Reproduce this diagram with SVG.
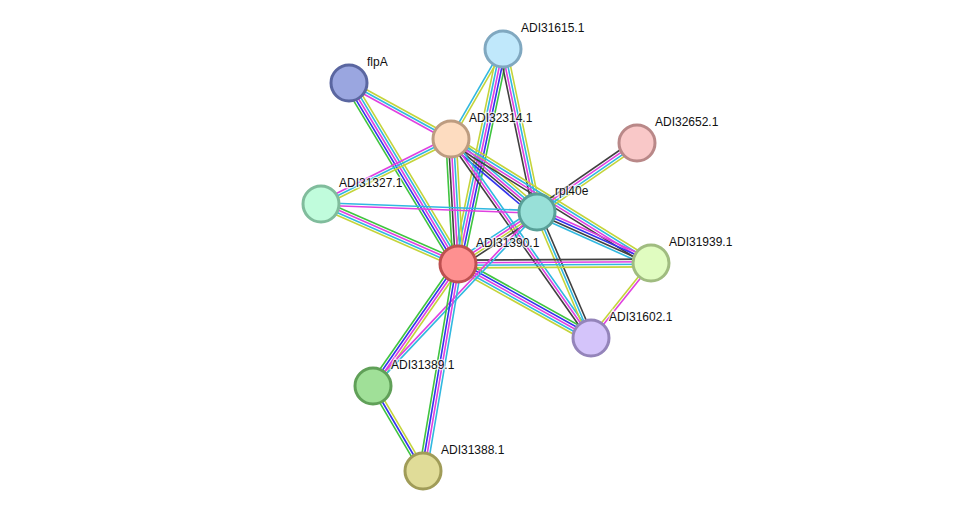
<svg xmlns="http://www.w3.org/2000/svg" width="976" height="516" viewBox="0 0 976 516">
<style>
.e line{stroke-width:1.6;fill:none}
.g{stroke:#3fc43f}.b{stroke:#3333ee}.m{stroke:#e040e0}.c{stroke:#30b8e0}.k{stroke:#404040}.y{stroke:#c4d43a}
.n circle{stroke-width:3}
.n text{font-family:"Liberation Sans",Arial,sans-serif;font-size:12px;fill:#111;stroke:#fff;stroke-width:2.5;stroke-opacity:0.7;paint-order:stroke}
</style>
<rect width="976" height="516" fill="#fff"/>
<g id="connectors" class="e">
<g transform="translate(349 83) rotate(28.77)"><line x2="116.4" y1="2.6" y2="2.6" class="m"/><line x2="116.4" class="c"/><line x2="116.4" y1="-2.6" y2="-2.6" class="y"/></g>
<g transform="translate(349 83) rotate(58.94)"><line x2="211.3" y1="5.2" y2="5.2" class="g"/><line x2="211.3" y1="2.6" y2="2.6" class="b"/><line x2="211.3" class="m"/><line x2="211.3" y1="-2.6" y2="-2.6" class="c"/><line x2="211.3" y1="-5.2" y2="-5.2" class="y"/></g>
<g transform="translate(503 49) rotate(120.02)"><line x2="103.9" y1="-1.3" y2="-1.3" class="y"/><line x2="103.9" y1="1.3" y2="1.3" class="c"/></g>
<g transform="translate(503 49) rotate(101.82)"><line x2="219.7" y1="-5.2" y2="-5.2" class="g"/><line x2="219.7" y1="-2.6" y2="-2.6" class="b"/><line x2="219.7" class="m"/><line x2="219.7" y1="2.6" y2="2.6" class="c"/><line x2="219.7" y1="5.2" y2="5.2" class="y"/></g>
<g transform="translate(503 49) rotate(78.22)"><line x2="166.5" y1="3.9" y2="3.9" class="k"/><line x2="166.5" y1="1.3" y2="1.3" class="m"/><line x2="166.5" y1="-1.3" y2="-1.3" class="c"/><line x2="166.5" y1="-3.9" y2="-3.9" class="y"/></g>
<g transform="translate(451 139) rotate(40.33)"><line x2="112.8" y1="5.2" y2="5.2" class="b"/><line x2="112.8" y1="2.6" y2="2.6" class="k"/><line x2="112.8" class="m"/><line x2="112.8" y1="-2.6" y2="-2.6" class="c"/><line x2="112.8" y1="-5.2" y2="-5.2" class="y"/></g>
<g transform="translate(451 139) rotate(31.80)"><line x2="235.3" y1="3.9" y2="3.9" class="k"/><line x2="235.3" y1="1.3" y2="1.3" class="m"/><line x2="235.3" y1="-1.3" y2="-1.3" class="c"/><line x2="235.3" y1="-3.9" y2="-3.9" class="y"/></g>
<g transform="translate(451 139) rotate(86.79)"><line x2="125.2" y1="5.2" y2="5.2" class="g"/><line x2="125.2" y1="2.6" y2="2.6" class="k"/><line x2="125.2" class="m"/><line x2="125.2" y1="-2.6" y2="-2.6" class="c"/><line x2="125.2" y1="-5.2" y2="-5.2" class="y"/></g>
<g transform="translate(451 139) rotate(54.87)"><line x2="243.3" y1="2.6" y2="2.6" class="k"/><line x2="243.3" class="m"/><line x2="243.3" y1="-2.6" y2="-2.6" class="c"/></g>
<g transform="translate(321 204) rotate(-26.57)"><line x2="145.3" y1="-2.6" y2="-2.6" class="m"/><line x2="145.3" class="c"/><line x2="145.3" y1="2.6" y2="2.6" class="y"/></g>
<g transform="translate(321 204) rotate(2.12)"><line x2="216.1" y1="-1.3" y2="-1.3" class="c"/><line x2="216.1" y1="1.3" y2="1.3" class="m"/></g>
<g transform="translate(321 204) rotate(23.65)"><line x2="149.6" y1="-3.9" y2="-3.9" class="g"/><line x2="149.6" y1="-1.3" y2="-1.3" class="m"/><line x2="149.6" y1="1.3" y2="1.3" class="c"/><line x2="149.6" y1="3.9" y2="3.9" class="y"/></g>
<g transform="translate(537 212) rotate(-34.61)"><line x2="121.5" y1="-3.9" y2="-3.9" class="k"/><line x2="121.5" y1="-1.3" y2="-1.3" class="m"/><line x2="121.5" y1="1.3" y2="1.3" class="c"/><line x2="121.5" y1="3.9" y2="3.9" class="y"/></g>
<g transform="translate(458 264) rotate(-33.35)"><line x2="94.6" y1="3.9" y2="3.9" class="k"/><line x2="94.6" y1="1.3" y2="1.3" class="y"/><line x2="94.6" y1="-1.3" y2="-1.3" class="m"/><line x2="94.6" y1="-3.9" y2="-3.9" class="c"/></g>
<g transform="translate(537 212) rotate(24.10)"><line x2="124.9" y1="-3.9" y2="-3.9" class="m"/><line x2="124.9" y1="-1.3" y2="-1.3" class="b"/><line x2="124.9" y1="1.3" y2="1.3" class="k"/><line x2="124.9" y1="3.9" y2="3.9" class="c"/></g>
<g transform="translate(537 212) rotate(66.80)"><line x2="137.1" y1="-2.6" y2="-2.6" class="k"/><line x2="137.1" class="c"/><line x2="137.1" y1="2.6" y2="2.6" class="y"/></g>
<g transform="translate(458 264) rotate(-0.30)"><line x2="193" y1="-3.9" y2="-3.9" class="k"/><line x2="193" y1="-1.3" y2="-1.3" class="m"/><line x2="193" y1="1.3" y2="1.3" class="c"/><line x2="193" y1="3.9" y2="3.9" class="y"/></g>
<g transform="translate(458 264) rotate(29.09)"><line x2="152.2" y1="-5.2" y2="-5.2" class="g"/><line x2="152.2" y1="-2.6" y2="-2.6" class="b"/><line x2="152.2" class="m"/><line x2="152.2" y1="2.6" y2="2.6" class="c"/><line x2="152.2" y1="5.2" y2="5.2" class="y"/></g>
<g transform="translate(651 263) rotate(128.66)"><line x2="96" y1="-1.3" y2="-1.3" class="m"/><line x2="96" y1="1.3" y2="1.3" class="y"/></g>
<g transform="translate(458 264) rotate(124.87)"><line x2="148.7" y1="3.9" y2="3.9" class="g"/><line x2="148.7" y1="1.3" y2="1.3" class="b"/><line x2="148.7" y1="-1.3" y2="-1.3" class="m"/><line x2="148.7" y1="-3.9" y2="-3.9" class="y"/></g>
<g transform="translate(373 386) rotate(-46.70)"><line x2="239.1" y1="-1.3" y2="-1.3" class="m"/><line x2="239.1" y1="1.3" y2="1.3" class="c"/></g>
<g transform="translate(458 264) rotate(99.60)"><line x2="209.9" y1="3.9" y2="3.9" class="g"/><line x2="209.9" y1="1.3" y2="1.3" class="b"/><line x2="209.9" y1="-1.3" y2="-1.3" class="m"/><line x2="209.9" y1="-3.9" y2="-3.9" class="c"/></g>
<g transform="translate(373 386) rotate(59.53)"><line x2="98.6" y1="2.6" y2="2.6" class="g"/><line x2="98.6" class="b"/><line x2="98.6" y1="-2.6" y2="-2.6" class="y"/></g>
</g>
<g id="ADI31615.1" class="n"><circle cx="503" cy="49" r="18" fill="#c0e8fb" stroke="#80a8c0"/><text x="521" y="32">ADI31615.1</text></g>
<g id="flpA" class="n"><circle cx="349" cy="83" r="18" fill="#9aa6e0" stroke="#5a66a0"/><text x="367" y="66">flpA</text></g>
<g id="ADI32314.1" class="n"><circle cx="451" cy="139" r="18" fill="#fddcc0" stroke="#bd9c80"/><text x="469" y="122">ADI32314.1</text></g>
<g id="ADI32652.1" class="n"><circle cx="637" cy="143" r="18" fill="#f9c8c8" stroke="#b98888"/><text x="655" y="126">ADI32652.1</text></g>
<g id="ADI31327.1" class="n"><circle cx="321" cy="204" r="18" fill="#c0fcdc" stroke="#80bc9c"/><text x="339" y="187">ADI31327.1</text></g>
<g id="rpl40e" class="n"><circle cx="537" cy="212" r="18" fill="#98e0d8" stroke="#58a098"/><text x="555" y="195">rpl40e</text></g>
<g id="ADI31390.1" class="n"><circle cx="458" cy="264" r="18" fill="#fe9090" stroke="#be5050"/><text x="476" y="247">ADI31390.1</text></g>
<g id="ADI31939.1" class="n"><circle cx="651" cy="263" r="18" fill="#e0fcc0" stroke="#a0bc80"/><text x="669" y="246">ADI31939.1</text></g>
<g id="ADI31602.1" class="n"><circle cx="591" cy="338" r="18" fill="#d4c4fa" stroke="#9484ba"/><text x="609" y="321">ADI31602.1</text></g>
<g id="ADI31389.1" class="n"><circle cx="373" cy="386" r="18" fill="#a0e098" stroke="#60a058"/><text x="391" y="369">ADI31389.1</text></g>
<g id="ADI31388.1" class="n"><circle cx="423" cy="471" r="18" fill="#e0dc98" stroke="#a09c58"/><text x="441" y="454">ADI31388.1</text></g>
</svg>
